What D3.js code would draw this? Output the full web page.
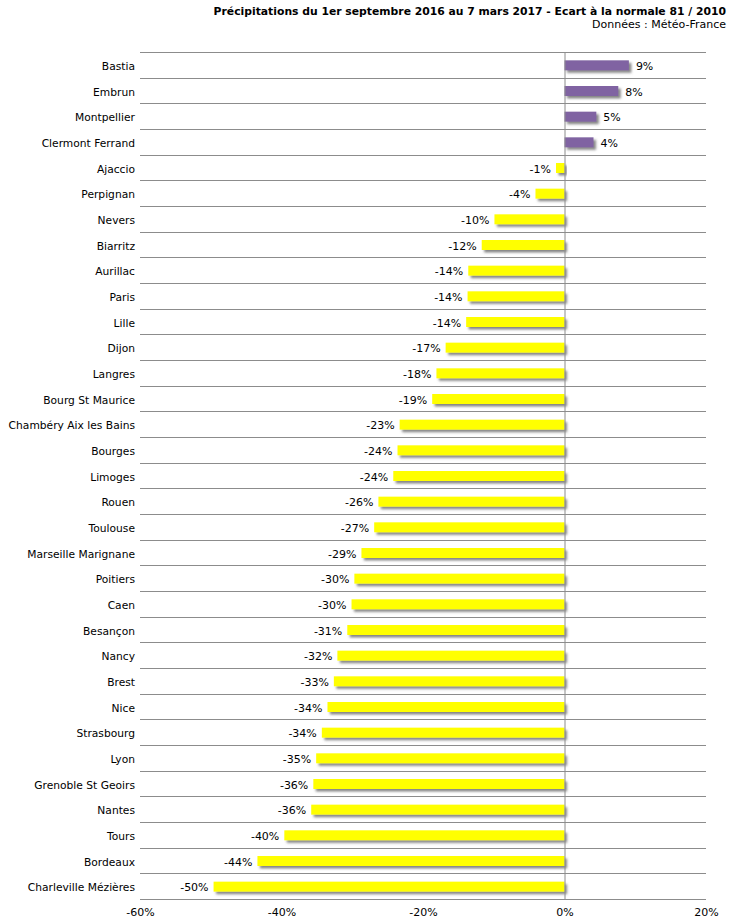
<!DOCTYPE html>
<html><head><meta charset="utf-8">
<script src="https://cdn.jsdelivr.net/npm/d3@7/dist/d3.min.js"></script>
<style>body{margin:0;background:#fff}svg{display:block}text{font-family:"DejaVu Sans",Verdana,sans-serif}</style>
</head><body>
<svg id="c" width="730" height="922"></svg>
<script>
const cities = ["Bastia","Embrun","Montpellier","Clermont Ferrand","Ajaccio","Perpignan","Nevers","Biarritz","Aurillac","Paris","Lille","Dijon","Langres","Bourg St Maurice","Chambéry Aix les Bains","Bourges","Limoges","Rouen","Toulouse","Marseille Marignane","Poitiers","Caen","Besançon","Nancy","Brest","Nice","Strasbourg","Lyon","Grenoble St Geoirs","Nantes","Tours","Bordeaux","Charleville Mézières"];
const values = [9.1,7.6,4.5,4.1,-1.2,-4.1,-9.9,-11.7,-13.6,-13.7,-13.9,-16.8,-18.1,-18.7,-23.3,-23.6,-24.2,-26.3,-26.9,-28.7,-29.7,-30.1,-30.7,-32.1,-32.6,-33.5,-34.3,-35.1,-35.5,-35.8,-39.6,-43.4,-49.6];
const labels = ["9%","8%","5%","4%","-1%","-4%","-10%","-12%","-14%","-14%","-14%","-17%","-18%","-19%","-23%","-24%","-24%","-26%","-27%","-29%","-30%","-30%","-31%","-32%","-33%","-34%","-34%","-35%","-36%","-36%","-40%","-44%","-50%"];
const ticks = [-60,-40,-20,0,20];
const title = "Précipitations du 1er septembre 2016 au 7 mars 2017 - Ecart à la normale 81 / 2010";
const subtitle = "Données : Météo-France";

const svg = d3.select("#c");
const x = d3.scaleLinear().domain([-60,20]).range([140,706]);
const y = d3.scaleBand().domain(cities).range([52,899]).paddingInner(0);

const defs = svg.append("defs");
const f = defs.append("filter").attr("id","sh").attr("x","-10%").attr("y","-50%").attr("width","130%").attr("height","250%");
f.append("feDropShadow").attr("dx",2.5).attr("dy",2.5).attr("stdDeviation",1.2).attr("flood-color","#555").attr("flood-opacity",0.7);

svg.append("text").attr("x",726).attr("y",15).attr("text-anchor","end").attr("font-size",10.8).attr("font-weight","bold")
  .attr("fill","#000").text(title);
svg.append("text").attr("x",726).attr("y",28).attr("text-anchor","end").attr("font-size",11).attr("fill","#000").text(subtitle);

// gridlines at band boundaries
const bounds = cities.map(c=>y(c)).concat([y.range()[1]]);
svg.append("g").selectAll("line").data(bounds).join("line")
  .attr("x1",140).attr("x2",706).attr("y1",d=>Math.round(d)+0.5).attr("y2",d=>Math.round(d)+0.5)
  .attr("stroke","#8c8c8c").attr("stroke-width",1);

// bars
svg.append("g").selectAll("rect").data(values).join("rect")
  .attr("x",(d)=>x(Math.min(0,d)))
  .attr("width",d=>Math.abs(x(d)-x(0)))
  .attr("y",(d,i)=>y(cities[i])+y.bandwidth()/2-4.5)
  .attr("height",10)
  .attr("fill",d=>d>=0?"#8064a2":"#ffff00")
  .attr("filter","url(#sh)");

// zero line
svg.append("line").attr("x1",x(0)+0.5).attr("x2",x(0)+0.5).attr("y1",52).attr("y2",899).attr("stroke","#8c8c8c");

// value labels
svg.append("g").selectAll("text").data(values).join("text")
  .attr("x",d=>d>=0?x(d)+7:x(d)-5)
  .attr("y",(d,i)=>y(cities[i])+y.bandwidth()/2+5)
  .attr("text-anchor",d=>d>=0?"start":"end")
  .attr("font-size",11).attr("fill","#000")
  .text((d,i)=>labels[i]);

// category labels
svg.append("g").selectAll("text").data(cities).join("text")
  .attr("x",135).attr("y",d=>y(d)+y.bandwidth()/2+5)
  .attr("text-anchor","end").attr("font-size",10.7).attr("fill","#000").text(d=>d);

// x axis
const ax = d3.axisBottom(x).tickValues(ticks).tickFormat(d=>d+"%").tickSize(0).tickPadding(9);
const g = svg.append("g").attr("transform","translate(0,899)").call(ax);
g.select(".domain").remove();
g.selectAll("text").attr("font-size",11).attr("fill","#000").attr("font-family","DejaVu Sans, Verdana, sans-serif");
</script>
</body></html>
